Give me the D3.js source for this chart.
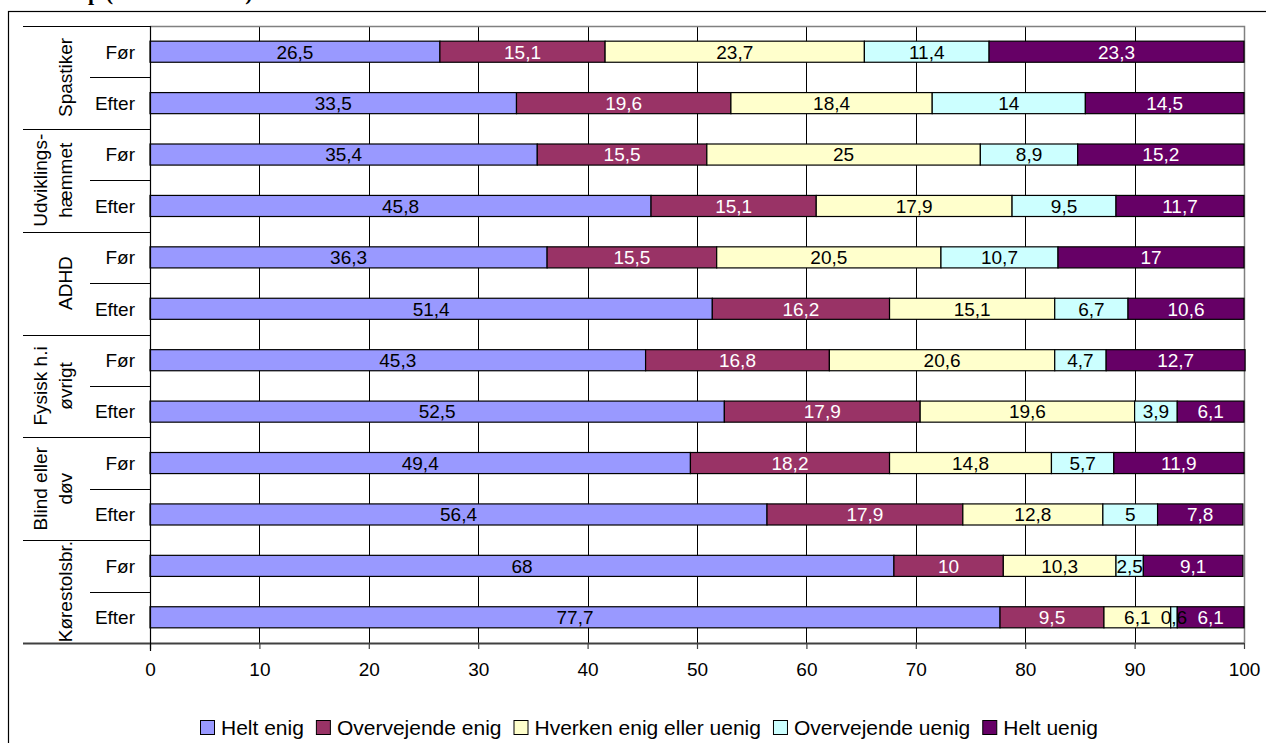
<!DOCTYPE html>
<html><head><meta charset="utf-8">
<script src="https://cdn.jsdelivr.net/npm/d3@7"></script>
<style>
body{margin:0;background:#fff;}
svg{display:block;font-family:"Liberation Sans",Arial,sans-serif;}
</style></head>
<body><svg id="c" width="1266" height="743"></svg>
<script>
// ---- data ----
const groupLabels = [["Spastiker"],["Udviklings-","hæmmet"],["ADHD"],["Fysisk h.i","øvrigt"],["Blind eller","døv"],["Kørestolsbr."]];
const subLabels = ["Før","Efter"];
const seriesNames = ["Helt enig","Overvejende enig","Hverken enig eller uenig","Overvejende uenig","Helt uenig"];
const seriesColors = ["#9999FF","#993366","#FFFFCC","#CCFFFF","#660066"];
const labelColors = ["#000","#fff","#000","#000","#fff"];
const heltEnig        = [26.5,33.5,35.4,45.8,36.3,51.4,45.3,52.5,49.4,56.4,68,77.7];
const overvejendeEnig = [15.1,19.6,15.5,15.1,15.5,16.2,16.8,17.9,18.2,17.9,10,9.5];
const hverken         = [23.7,18.4,25,17.9,20.5,15.1,20.6,19.6,14.8,12.8,10.3,6.1];
const overvejendeUenig= [11.4,14,8.9,9.5,10.7,6.7,4.7,3.9,5.7,5,2.5,0.6];
const heltUenig       = [23.3,14.5,15.2,11.7,17,10.6,12.7,6.1,11.9,7.8,9.1,6.1];
const xTicks = [0,10,20,30,40,50,60,70,80,90,100];

const seriesValues = [heltEnig,overvejendeEnig,hverken,overvejendeUenig,heltUenig];
const rows = [];
groupLabels.forEach((g,gi)=>subLabels.forEach((s,si)=>{
  const idx = gi*2+si;
  const r = {id:idx, group:gi, sub:s};
  seriesNames.forEach((n,k)=>r[n]=seriesValues[k][idx]);
  rows.push(r);
}));

const svg = d3.select("#c");
const L=150,R=1244,T=26,B=643;
const x = d3.scaleLinear().domain([0,100]).range([L,R]);
const y = d3.scaleBand().domain(rows.map(d=>d.id)).range([T,B]).paddingInner(0.59).paddingOuter(0.295);
const step = y.step();
const fmt = v => String(v).replace(".",",");

// title fragment (cut off at the top edge, as in the reference)
const title = svg.append("text").attr("y",0).attr("font-family","'Liberation Serif','Times New Roman',serif")
  .attr("font-weight","bold").attr("font-size",22).text("Svar efter handicap (antal svar i %)");
{
  const t = title.node(); const s = t.textContent; const pi = s.indexOf("p (");
  const off = t.getSubStringLength(0,pi);
  title.attr("x", 88-off);
}

// outer frame
svg.append("rect").attr("x",8.5).attr("y",11.5).attr("width",1300).attr("height",800)
  .attr("fill","none").attr("stroke","#000").attr("stroke-width",1.2);

// gridlines
svg.append("g").selectAll("line").data(xTicks.filter(t=>t>0&&t<100)).join("line")
  .attr("x1",d=>Math.round(x(d))+0.5).attr("x2",d=>Math.round(x(d))+0.5)
  .attr("y1",T).attr("y2",B).attr("stroke","#000").attr("stroke-width",1);
// plot border top/right
svg.append("path").attr("d",`M${L},${T+0.5}H${R+0.5}V${B}`).attr("fill","none").attr("stroke","#808080").attr("stroke-width",1.5);

// bars
const stack = d3.stack().keys(seriesNames)(rows);
const layers = svg.append("g").selectAll("g").data(stack).join("g")
  .attr("fill",(d,i)=>seriesColors[i]);
layers.selectAll("rect").data(d=>d).join("rect")
  .attr("x",d=>x(d[0])).attr("width",d=>x(d[1])-x(d[0]))
  .attr("y",d=>y(d.data.id)).attr("height",y.bandwidth())
  .attr("stroke","#000").attr("stroke-width",1.2);
// labels
const lbl = svg.append("g").attr("font-size",19).attr("text-anchor","middle");
stack.forEach((layer,i)=>{
  lbl.append("g").attr("fill",labelColors[i]).selectAll("text").data(layer).join("text")
    .attr("x",d=>(x(d[0])+x(d[1]))/2).attr("y",d=>y(d.data.id)+y.bandwidth()/2)
    .attr("dy","0.36em").text(d=>fmt(d.data[seriesNames[i]]));
});

// x axis
const xa = svg.append("g").attr("transform",`translate(0,${B})`)
  .call(d3.axisBottom(x).tickValues(xTicks).tickSize(6).tickPadding(14).tickFormat(d=>d));
xa.select(".domain").attr("stroke","#404040").attr("stroke-width",2).attr("d",`M${L},0.5H${R}`);
xa.selectAll(".tick line").attr("stroke","#404040").attr("stroke-width",1.2);
xa.selectAll(".tick text").attr("font-size",19).attr("font-family","'Liberation Sans',Arial,sans-serif").attr("fill","#000");

// category axis structure
const cat = svg.append("g").attr("stroke","#000").attr("stroke-width",1.2);
cat.append("line").attr("x1",L+0.5).attr("x2",L+0.5).attr("y1",T).attr("y2",B+8);
for(let g=0; g<=groupLabels.length; g++){
  const yy = Math.round(T + g*2*step)+0.5;
  cat.append("line").attr("x1",23).attr("x2",L).attr("y1",yy).attr("y2",yy)
    .attr("stroke", g===groupLabels.length? "#404040":"#000").attr("stroke-width", g===groupLabels.length?2:1.2);
}
for(let g=0; g<groupLabels.length; g++){
  const yy = Math.round(T + (g*2+1)*step)+0.5;
  cat.append("line").attr("x1",90).attr("x2",L).attr("y1",yy).attr("y2",yy);
}
// sub labels
svg.append("g").attr("font-size",19).attr("text-anchor","end").selectAll("text").data(rows).join("text")
  .attr("x",135).attr("y",d=>y(d.id)+y.bandwidth()/2).attr("dy","0.36em").text(d=>d.sub);
// group labels
const gl = svg.append("g").attr("font-size",19).attr("text-anchor","middle");
groupLabels.forEach((lines,gi)=>{
  const cy = T + (gi*2+1)*step;
  lines.forEach((ln,li)=>{
    const cx = lines.length===1 ? 65 : (li===0?40:65);
    gl.append("text").attr("transform",`translate(${cx},${cy}) rotate(-90)`).attr("dy","0.36em").text(ln);
  });
});

// legend
const leg = svg.append("g").attr("font-size",21);
let lx = 200;
seriesNames.forEach((n,i)=>{
  leg.append("rect").attr("x",lx+0.5).attr("y",720.5).attr("width",14).attr("height",14)
    .attr("fill",seriesColors[i]).attr("stroke","#000").attr("stroke-width",1);
  const t = leg.append("text").attr("x",lx+21).attr("y",735).text(n);
  lx = lx + 21 + t.node().getComputedTextLength() + 12;
});
</script></body></html>
